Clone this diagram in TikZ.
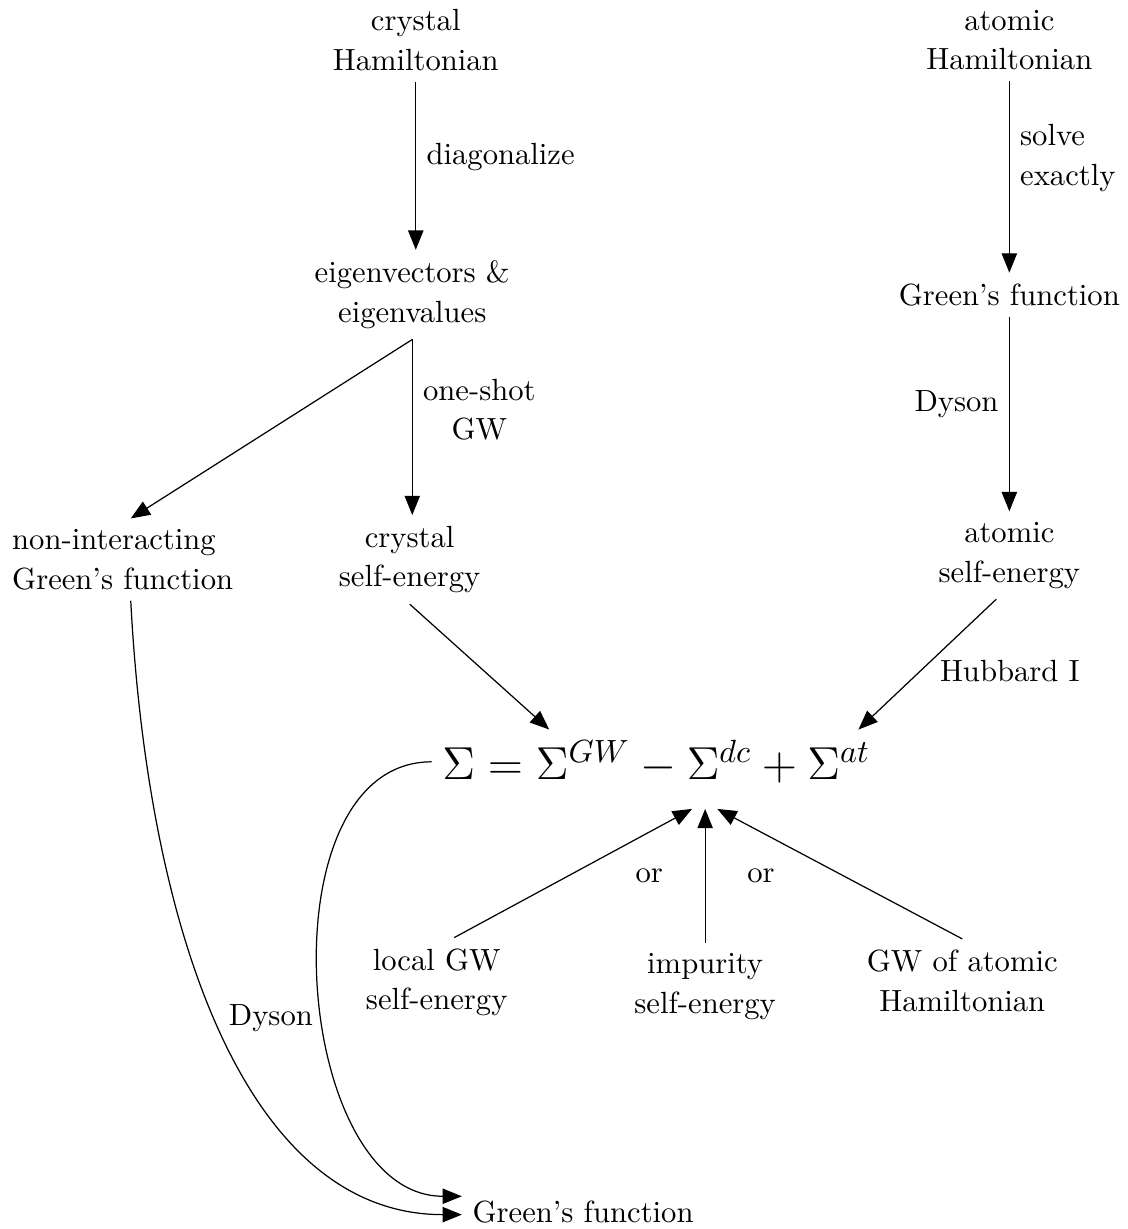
\documentclass[tikz,border=0pt]{standalone}
\usepackage{amssymb}
\usepackage{mathtools}
\usepackage{tikz}
\usetikzlibrary{arrows,arrows.meta}

\begin{document}
\begin{tikzpicture}[>={Triangle[length=6.3pt,width=5pt]},
    txt/.style={align=center, font=\fontsize{10}{13}\selectfont}]%[scale=.9]
    \useasboundingbox (0,0) rectangle (12.94,-14.10);

    \node[txt] (crysH) at (4.77,-0.46) {crystal\\Hamiltonian};
    \node[txt] (atomH) at (11.58,-0.46) {atomic\\Hamiltonian};
    \node[txt] (eigen) at (4.73,-3.38) {eigenvectors \&\\eigenvalues};
    \node[txt] (atomG) at (11.58,-3.38) {Green's function};
    \node[txt,align=left,text width=2.72cm] (nonint) at (1.50,-6.42) {non-interacting\\Green's function};
    \node[txt] (crysS) at (4.70,-6.42) {crystal\\self-energy};
    \node[txt] (atomS) at (11.58,-6.37) {atomic\\self-energy};
    \node[font=\Large] (sigma) at (7.53,-8.74) {\scalebox{1.048}{$\Sigma = \Sigma^{GW} - \Sigma^{dc} + \Sigma^{at}$}};
    \node[txt] (localGW) at (5.01,-11.27) {local GW\\self-energy};
    \node[txt] (impur) at (8.09,-11.32) {impurity\\self-energy};
    \node[txt] (gwat) at (11.04,-11.25) {GW of atomic\\Hamiltonian};
    \node[txt] (green) at (6.69,-13.90) {Green's function};

    \draw[->] (crysH.south) -- node[txt,right,pos=0.45] {diagonalize} (crysH.south |- eigen.north);
    \draw[->] (atomH) -- node[txt,right,align=left,pos=0.4] {solve\\exactly} (atomG);
    \draw[->] (eigen.south) -- (nonint.north);
    \draw[->] (eigen.south) -- node[txt,right,pos=0.4] {one-shot\\GW} (eigen.south |- crysS.north);
    \draw[->] (atomG) -- node[txt,left,pos=0.45] {Dyson} (atomS);
    \draw[->] (crysS.south) -- ([xshift=1.35cm]sigma.north west);
    \draw[->] ([xshift=-0.15cm]atomS.south) -- node[txt,right,pos=0.55,xshift=0.1cm] {Hubbard I} ([xshift=-0.26cm]sigma.north east);

    \coordinate (sigin) at ([xshift=0.56cm,yshift=-0.17cm]sigma.south);
    \draw[->] ([xshift=0.2cm]localGW.north) -- ([xshift=-0.15cm]sigin);
    \draw[->] (impur.north) -- node[txt,left=0.36cm] {or} node[txt,right=0.36cm] {or} (sigin);
    \draw[->] (gwat.north) -- ([xshift=0.14cm]sigin);

    \draw[->] (nonint.south) to[out=-87,in=180,out looseness=1.2,in looseness=0.8] ([yshift=-1pt]green.west);
    \draw[->] (sigma.west) to[out=180,in=180] node[txt,left,pos=0.56] {Dyson} ([yshift=5pt]green.west);
\end{tikzpicture}
\end{document}
